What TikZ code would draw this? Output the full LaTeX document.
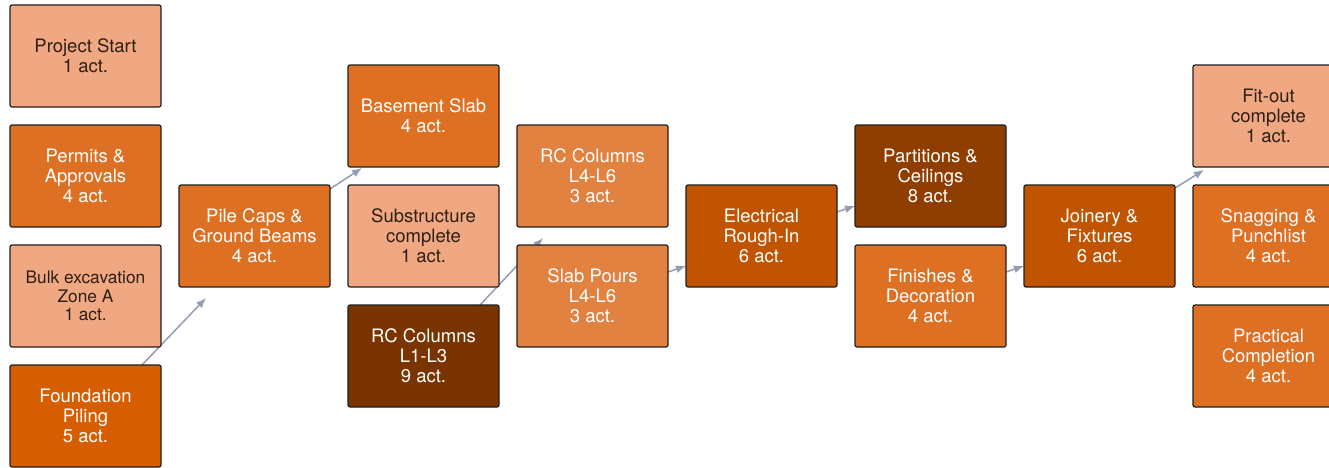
\documentclass[tikz,border=0pt]{standalone}
\usepackage{fontspec}
\setmainfont{TeX Gyre Heros}
\usepackage{tikz}
\usetikzlibrary{arrows.meta,positioning,backgrounds}

\definecolor{phaseLight}{HTML}{F0A882}
\definecolor{phaseMid}{HTML}{DD7022}
\definecolor{phaseSoft}{HTML}{E28241}
\definecolor{phaseStrong}{HTML}{D65E00}
\definecolor{phaseDeep}{HTML}{C05400}
\definecolor{phaseDark}{HTML}{8F3E00}
\definecolor{phaseDarkest}{HTML}{7A3400}
\definecolor{linkGray}{HTML}{949CB2}
\definecolor{inkDark}{HTML}{2E1E14}

\begin{document}
\begin{tikzpicture}[
    node distance=18pt and 18pt,
    font=\fontsize{18.5}{20}\selectfont,
    >={Latex[length=10pt,width=8pt]},
    task/.style={rectangle, draw=black!88, line width=1.2pt, rounded corners=2pt, align=center, minimum width=151pt, minimum height=102pt, inner sep=0pt, outer sep=0pt, text=white},
    lighttask/.style={task, fill=phaseLight, text=inkDark},
    midtask/.style={task, fill=phaseMid},
    softtask/.style={task, fill=phaseSoft},
    strongtask/.style={task, fill=phaseStrong},
    deeptask/.style={task, fill=phaseDeep},
    darktask/.style={task, fill=phaseDark},
    darkesttask/.style={task, fill=phaseDarkest},
    link/.style={->, draw=linkGray, line width=1.5pt}
]
\useasboundingbox (0,0) rectangle (1329pt,-467pt);

% Early works
\node[lighttask] (start) at (85.5pt,-56pt) {Project Start\\1 act.};
\node[midtask, below=of start] (permits) {Permits \&\\Approvals\\4 act.};
\node[lighttask, below=of permits, font=\fontsize{17.3}{18.7}\selectfont] (excavation) {Bulk excavation\\Zone A\\1 act.};
\node[strongtask, below=of excavation] (piling) {Foundation\\Piling\\5 act.};

% Substructure
\node[midtask, right=of permits, yshift=-60pt] (pilecaps) {Pile Caps \&\\Ground Beams\\4 act.};
\node[lighttask, right=of pilecaps] (substructure) {Substructure\\complete\\1 act.};
\node[midtask, above=of substructure] (basement) {Basement Slab\\4 act.};
\node[darkesttask, below=of substructure] (columnslow) {RC Columns\\L1-L3\\9 act.};

% Superstructure
\node[softtask, right=of substructure, yshift=60pt] (columnshigh) {RC Columns\\L4-L6\\3 act.};
\node[softtask, below=of columnshigh] (slabs) {Slab Pours\\L4-L6\\3 act.};

% Fit-out
\node[deeptask, right=of columnshigh, yshift=-60pt] (electrical) {Electrical\\Rough-In\\6 act.};
\node[darktask, right=of electrical, yshift=60pt] (partitions) {Partitions \&\\Ceilings\\8 act.};
\node[midtask, below=of partitions] (finishes) {Finishes \&\\Decoration\\4 act.};
\node[deeptask, right=of partitions, yshift=-60pt] (joinery) {Joinery \&\\Fixtures\\6 act.};

% Handover
\node[midtask, right=of joinery] (snagging) {Snagging \&\\Punchlist\\4 act.};
\node[lighttask, above=of snagging] (fitout) {Fit-out\\complete\\1 act.};
\node[midtask, below=of snagging] (practical) {Practical\\Completion\\4 act.};

% Dependencies (behind the boxes)
\begin{scope}[on background layer]
    \draw[link] ([xshift=-19pt]piling.north east) -- ([xshift=27pt,yshift=-11pt]pilecaps.south west);
    \draw[link] ([yshift=-4pt]pilecaps.north east) -- ([xshift=14pt,yshift=-1pt]basement.south west);
    \draw[link] ([xshift=-19pt]columnslow.north east) -- ([xshift=26pt,yshift=-11pt]columnshigh.south west);
    \draw[link] ([yshift=24pt]slabs.east) -- ([yshift=-30pt]electrical.west);
    \draw[link] ([yshift=24pt]electrical.east) -- ([yshift=-30pt]partitions.west);
    \draw[link] ([yshift=24pt]finishes.east) -- ([yshift=-30pt]joinery.west);
    \draw[link] ([yshift=-3pt]joinery.north east) -- ([xshift=11pt,yshift=-3pt]fitout.south west);
\end{scope}

\end{tikzpicture}
\end{document}
